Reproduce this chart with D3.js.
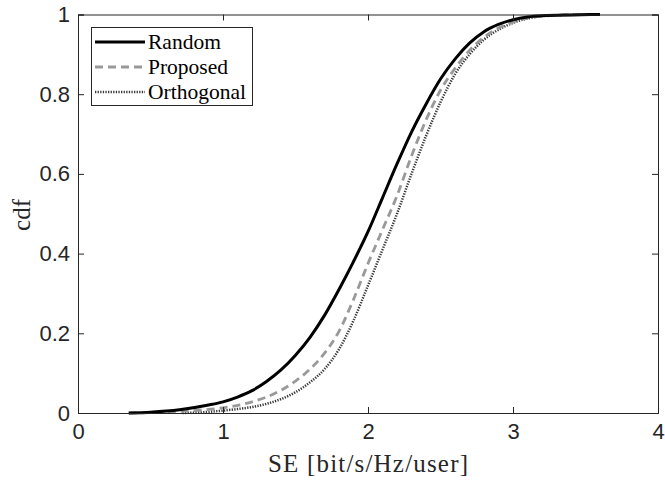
<!DOCTYPE html>
<html>
<head>
<meta charset="utf-8">
<script src="https://cdn.jsdelivr.net/npm/d3@7"></script>
<style>
html,body{margin:0;padding:0;background:#fff;}
svg{display:block;}
</style>
</head>
<body>
<svg id="chart" width="665" height="481"></svg>
<script>
// ---- data ----
const xTicks = [0, 1, 2, 3, 4];
const yTicks = [0, 0.2, 0.4, 0.6, 0.8, 1];
const seriesNames = ["Random", "Proposed", "Orthogonal"];

const randomSE  = [0.35,0.5,0.7,0.9,1.0,1.1,1.2,1.3,1.4,1.5,1.6,1.7,1.8,1.9,2.0,2.1,2.2,2.3,2.4,2.5,2.6,2.7,2.8,2.9,3.0,3.1,3.2,3.4,3.6];
const randomCdf = [0,0.002,0.008,0.02,0.028,0.04,0.056,0.079,0.108,0.145,0.19,0.245,0.31,0.38,0.455,0.54,0.625,0.705,0.775,0.838,0.888,0.928,0.957,0.975,0.987,0.994,0.997,0.999,1];

const proposedSE  = [0.35,0.5,0.7,0.9,1.0,1.1,1.2,1.3,1.4,1.5,1.6,1.7,1.8,1.9,2.0,2.1,2.2,2.3,2.4,2.5,2.6,2.7,2.8,2.9,3.0,3.1,3.2,3.4,3.6];
const proposedCdf = [0,0.001,0.004,0.009,0.013,0.019,0.028,0.04,0.057,0.08,0.11,0.15,0.205,0.285,0.375,0.46,0.545,0.645,0.735,0.81,0.865,0.91,0.943,0.966,0.981,0.991,0.996,0.999,1];

const orthoSE  = [0.72,0.9,1.0,1.1,1.2,1.3,1.4,1.5,1.6,1.7,1.8,1.9,2.0,2.1,2.2,2.3,2.4,2.5,2.6,2.7,2.8,2.9,3.0,3.1,3.2,3.4,3.6];
const orthoCdf = [0,0.003,0.006,0.01,0.015,0.023,0.035,0.052,0.077,0.11,0.16,0.232,0.32,0.41,0.5,0.6,0.695,0.78,0.85,0.9,0.937,0.962,0.979,0.99,0.996,0.999,1];

// ---- layout ----
const svg = d3.select("#chart");
const m = {left: 78, top: 14.5, right: 658, bottom: 413};
const x = d3.scaleLinear().domain([0, 4]).range([m.left, m.right]);
const y = d3.scaleLinear().domain([0, 1]).range([m.bottom, m.top]);
const axisColor = "#262626";
const tickFont = "'Liberation Sans', Arial, Helvetica, sans-serif";
const serifFont = "'Liberation Serif', 'Times New Roman', serif";

svg.append("rect").attr("width", 665).attr("height", 481).attr("fill", "#fff");

// curves
const styles = [
  {se: randomSE, cdf: randomCdf, color: "#000000", width: 3, dash: null},
  {se: proposedSE, cdf: proposedCdf, color: "#999999", width: 2.8, dash: "8,5"},
  {se: orthoSE, cdf: orthoCdf, color: "#3a3a3a", width: 2.5, dash: "1.3,1.3"}
];
const line = d3.line().x(d => x(d[0])).y(d => y(d[1])).curve(d3.curveMonotoneX);
const plot = svg.append("g");
styles.slice().reverse().forEach(s => {
  const pts = s.se.map((v, i) => [v, s.cdf[i]]);
  plot.append("path").datum(pts).attr("d", line)
    .attr("fill", "none").attr("stroke", s.color)
    .attr("stroke-width", s.width)
    .attr("stroke-dasharray", s.dash);
});

// axes (ticks inward, box)
const tickLen = 6;
const gx = svg.append("g").attr("transform", `translate(0,${m.bottom})`)
  .call(d3.axisBottom(x).tickValues(xTicks).tickSize(-tickLen).tickPadding(10).tickFormat(d3.format("d")));
const gxt = svg.append("g").attr("transform", `translate(0,${m.top})`)
  .call(d3.axisTop(x).tickValues(xTicks).tickSize(-tickLen).tickFormat(""));
const gy = svg.append("g").attr("transform", `translate(${m.left},0)`)
  .call(d3.axisLeft(y).tickValues(yTicks).tickSize(-tickLen).tickPadding(8).tickFormat(d => d === 0 || d === 1 ? d3.format("d")(d) : d3.format(".1f")(d)));
const gyr = svg.append("g").attr("transform", `translate(${m.right},0)`)
  .call(d3.axisRight(y).tickValues(yTicks).tickSize(-tickLen).tickFormat(""));
[gx, gxt, gy, gyr].forEach(g => {
  g.select(".domain").attr("stroke", axisColor).attr("stroke-width", 1);
  g.selectAll(".tick line").attr("stroke", axisColor).attr("stroke-width", 1);
  g.selectAll(".tick text").attr("fill", axisColor).attr("font-family", tickFont).attr("font-size", 22);
});

// axis titles
svg.append("text").attr("x", (m.left + m.right) / 2).attr("y", 472)
  .attr("text-anchor", "middle").attr("font-family", serifFont).attr("font-size", 25)
  .attr("fill", axisColor).attr("textLength", 200).attr("lengthAdjust", "spacing")
  .text("SE [bit/s/Hz/user]");
svg.append("text").attr("transform", "translate(30,215) rotate(-90)")
  .attr("text-anchor", "middle").attr("font-family", serifFont).attr("font-size", 25)
  .attr("fill", axisColor).text("cdf");

// legend
const lg = svg.append("g");
lg.append("rect").attr("x", 91.5).attr("y", 27.5).attr("width", 161).attr("height", 78)
  .attr("fill", "#fff").attr("stroke", axisColor).attr("stroke-width", 1);
const rowsY = [42, 67, 92];
styles.forEach((s, i) => {
  lg.append("line").attr("x1", 95).attr("x2", 145).attr("y1", rowsY[i]).attr("y2", rowsY[i])
    .attr("stroke", s.color).attr("stroke-width", s.width).attr("stroke-dasharray", s.dash);
  lg.append("text").attr("x", 148).attr("y", rowsY[i] + 7)
    .attr("font-family", serifFont).attr("font-size", 21.5).attr("fill", "#000")
    .text(seriesNames[i]);
});
</script>
</body>
</html>
